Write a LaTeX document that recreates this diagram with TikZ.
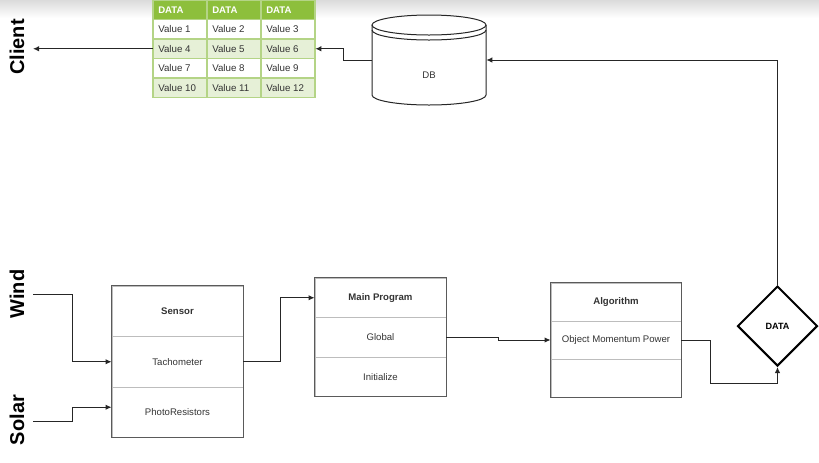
\documentclass[tikz,border=0pt]{standalone}
\usepackage{fontspec}
\setmainfont{Liberation Sans}
\usetikzlibrary{arrows.meta,shapes.geometric}

\definecolor{tablegreen}{HTML}{8DBF3C}
\definecolor{rowgreen}{HTML}{E6F0D7}
\definecolor{tableline}{HTML}{B4D486}
\definecolor{boxgray}{HTML}{5A5A5A}
\definecolor{divgray}{HTML}{BDBDBD}
\definecolor{textgray}{HTML}{333333}

\tikzset{
	conn/.style={draw=black!85, line width=0.75pt, -{Latex[length=4.5pt,width=4pt]}},
	line/.style={draw=black!85, line width=0.75pt},
	rowbox/.style={draw=divgray, line width=0.6pt, inner sep=0pt, minimum width=#1*0.75pt,
		text=textgray, font=\fontsize{7.2}{8.6}\selectfont},
	outerbox/.style={draw=boxgray, line width=0.75pt},
	sidelabel/.style={rotate=90, font=\fontsize{15}{18}\selectfont\bfseries},
	celltext/.style={anchor=west, inner sep=0pt, text=textgray, font=\fontsize{7.3}{8.6}\selectfont},
	headtext/.style={anchor=west, inner sep=0pt, text=white, font=\fontsize{7.2}{8.6}\selectfont\bfseries},
}

\begin{document}
\begin{tikzpicture}[x=0.75pt,y=-0.75pt]
	\useasboundingbox (0,0) rectangle (819,462);
	% Schatten oben
	\shade[top color=black!14, bottom color=white] (0,0) rectangle (819,18);
	
	% Seitenbeschriftungen
	\node[sidelabel] (client) at (17,47) {Client};
	\node[sidelabel] (wind) at (17,294) {Wind};
	\node[sidelabel] (solar) at (17,420) {Solar};
	
	% Tabelle
	\node[minimum width=162*0.75pt, minimum height=97.5*0.75pt, inner sep=0pt] (table) at (234,48.75) {};
	\fill[tablegreen] (153,0) rectangle (315,19.5);
	\foreach \r in {2,4} {
		\fill[rowgreen] (153,\r*19.5) rectangle (315,\r*19.5+19.5);
	}
	\foreach \r in {1,2,3,4} {
		\draw[tableline, line width=1pt] (153,\r*19.5) -- (315,\r*19.5);
	}
	\foreach \x in {207,261} {
		\draw[tableline, line width=1pt] (\x,0) -- (\x,97.5);
	}
	\draw[tableline, line width=1pt] (153,0) rectangle (315,97.5);
	\foreach \x [count=\i from 1] in {153,207,261} {
		\node[headtext] (h\i) at (\x+5,9.75) {DATA};
	}
	% Werte
	\foreach \r in {0,1,2,3} {
		\foreach \x [count=\c from 1] in {153,207,261} {
			\pgfmathtruncatemacro{\v}{3*\r+\c}
			\node[celltext] (v\v) at (\x+5,29.25+\r*19.5) {Value \v};
		}
	}
	
	% Datenbank
	\node[minimum width=114*0.75pt, minimum height=90*0.75pt, inner sep=0pt] (db) at (429,60) {};
	\draw[fill=white, line width=0.75pt, draw=black!85] (372,25) -- (372,95) arc[start angle=180, end angle=360, x radius=57, y radius=-10] -- (486,25);
	\draw[line width=0.75pt, draw=black!85] (429,25) ellipse[x radius=57, y radius=10];
	\draw[line width=0.75pt, draw=black!85] (372,30) arc[start angle=180, end angle=360, x radius=57, y radius=-10];
	\node[text=textgray, font=\fontsize{7.2}{8.6}\selectfont] (dblabel) at (429,75) {DB};
	
	% Sensor
	\node[rowbox=131, minimum height=50.5*0.75pt] (sens1) at (177.5,311.25) {\textbf{Sensor}};
	\node[rowbox=131, minimum height=50.5*0.75pt] (sens2) at (177.5,361.75) {Tachometer};
	\node[rowbox=131, minimum height=50.5*0.75pt] (sens3) at (177.5,412.25) {PhotoResistors};
	\draw[outerbox] (sens1.north west) rectangle (sens3.south east);
	
	% Main Program
	\node[rowbox=131, minimum height=39.5*0.75pt] (main1) at (380.5,297.75) {\textbf{Main Program}};
	\node[rowbox=131, minimum height=39.5*0.75pt] (main2) at (380.5,337.25) {Global};
	\node[rowbox=131, minimum height=39.5*0.75pt] (main3) at (380.5,376.75) {Initialize};
	\draw[outerbox] (main1.north west) rectangle (main3.south east);
	
	% Algorithm
	\node[rowbox=130, minimum height=38*0.75pt] (alg1) at (616,302) {\textbf{Algorithm}};
	\node[rowbox=130, minimum height=38*0.75pt] (alg2) at (616,340) {Object Momentum Power};
	\node[rowbox=130, minimum height=38*0.75pt] (alg3) at (616,378) {};
	\draw[outerbox] (alg1.north west) rectangle (alg3.south east);
	
	% Raute
	\node[diamond, draw=black, line width=1.5pt, minimum width=80*0.75pt, minimum height=80*0.75pt,
		inner sep=0pt, font=\fontsize{6.8}{8}\selectfont\bfseries] (data) at (777.5,326) {DATA};
	
	% Verbindungen
	\coordinate (clientend) at (33,48.75);
	\coordinate (windstart) at (33,294);
	\coordinate (solarstart) at (33,421);
	\draw[conn] (table.west) -- (clientend);
	\draw[conn] (db.west) -- ++(-28,0) |- (table.east);
	\draw[conn] (data.north) |- (db.east);
	\draw[conn] (windstart) -- (72,294) |- (sens2.west);
	\draw[conn] (solarstart) -- (72,421) |- ([yshift=3.75pt]sens3.west);
	\draw[conn] (sens2.east) -- ++(37,0) |- (main1.west);
	\draw[conn] (main2.east) -- ++(52,0) |- (alg2.west);
	\draw[conn] (alg2.east) -- ++(29,0) -- ++(0,43) -| (data.south);
\end{tikzpicture}
\end{document}
